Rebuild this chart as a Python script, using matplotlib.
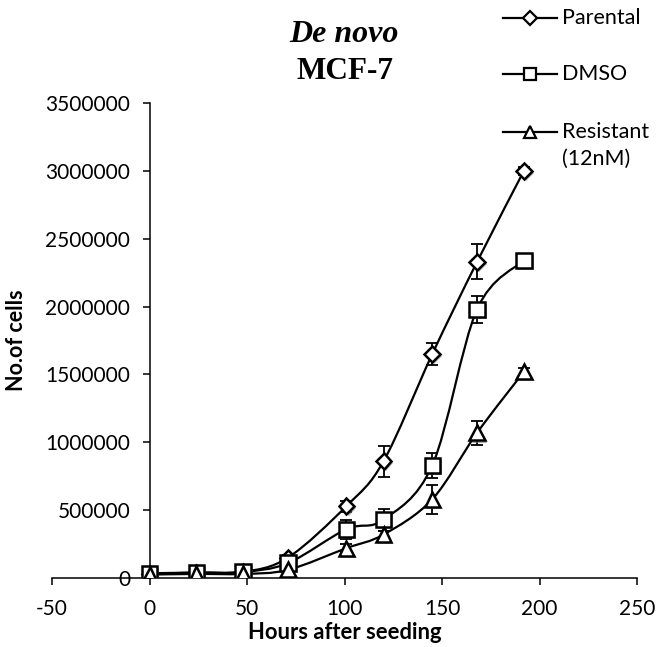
import numpy as np
import matplotlib.pyplot as plt
from matplotlib.path import Path
from matplotlib.patches import PathPatch
from matplotlib.lines import Line2D
import matplotlib.patheffects as pe

# growth curve data (cells counted at each time point, mean and error)
hours = [0, 24, 48, 71, 101, 120, 145, 168, 192]

parental = [30000, 40000, 45000, 150000, 530000, 860000, 1650000, 2330000, 3000000]
parental_err = [5000, 5000, 5000, 20000, 40000, 115000, 80000, 130000, 30000]

dmso = [35000, 40000, 45000, 110000, 360000, 430000, 830000, 1980000, 2340000]
dmso_err = [5000, 5000, 5000, 20000, 70000, 80000, 90000, 100000, 30000]

resistant = [25000, 30000, 30000, 60000, 220000, 320000, 580000, 1070000, 1520000]
resistant_err = [5000, 5000, 5000, 10000, 30000, 30000, 105000, 90000, 30000]

labels = ["Parental", "DMSO", "Resistant\n(12nM)"]
markers = ["D", "s", "^"]
msizes = [8, 11, 11]

plt.rcParams['font.family'] = ['Lato', 'DejaVu Sans']
plt.rcParams['axes.unicode_minus'] = False


def smooth_path(x, y):
    # Catmull-Rom style cubic bezier through the points (like a smoothed line)
    pts = np.column_stack([x, y]).astype(float)
    padded = np.vstack([pts[0], pts, pts[-1]])
    verts = [pts[0]]
    codes = [Path.MOVETO]
    for i in range(len(pts) - 1):
        p0, p1, p2, p3 = padded[i], padded[i + 1], padded[i + 2], padded[i + 3]
        verts += [p1 + (p2 - p0) / 6, p2 - (p3 - p1) / 6, p2]
        codes += [Path.CURVE4] * 3
    return Path(verts, codes)


W, H = 666, 647
fig = plt.figure(figsize=(W / 100, H / 100), dpi=100)
ax = fig.add_axes([52 / W, 1 - 578 / H, 585 / W, 475 / H])

shadow = [pe.SimplePatchShadow(offset=(1.5, -1.5), shadow_rgbFace='0.45', alpha=0.6), pe.Normal()]

series = [(parental, parental_err), (dmso, dmso_err), (resistant, resistant_err)]
for (vals, err), mk, ms in zip(series, markers, msizes):
    ax.errorbar(hours, vals, yerr=err, fmt='none', ecolor='black', elinewidth=1.3,
                capsize=4, capthick=1.3, zorder=2)
    ax.add_patch(PathPatch(smooth_path(hours, vals), fill=False, edgecolor='black',
                           linewidth=1.6, zorder=3))
    ax.plot(hours, vals, linestyle='none', marker=mk, markersize=ms, markerfacecolor='white',
            markeredgecolor='black', markeredgewidth=1.8, zorder=4, path_effects=shadow)

ax.set_xlim(-50, 250)
ax.set_ylim(0, 3500000)
ax.set_xticks(np.arange(-50, 251, 50))
ax.set_yticks(np.arange(0, 3500001, 500000))
ax.yaxis.set_major_formatter(plt.FuncFormatter(lambda v, p: f"{int(v)}"))

ax.spines['left'].set_position(('data', 0))
ax.spines['bottom'].set_position(('data', 0))
ax.spines['top'].set_visible(False)
ax.spines['right'].set_visible(False)
for s in ('left', 'bottom'):
    ax.spines[s].set_linewidth(1.1)
ax.tick_params(axis='both', direction='out', length=5, width=1.1, labelsize=15)
ax.tick_params(axis='x', pad=10)
ax.tick_params(axis='y', pad=9)

ax.set_xlabel("Hours after seeding", fontsize=15.8, fontweight='bold')
ax.xaxis.set_label_coords(0.5, -0.114)
ax.xaxis.label.set_va('center')
ax.set_ylabel("No.of cells", fontsize=15.5, fontweight='bold')
ax.yaxis.set_label_coords(-0.06, 0.5)
ax.yaxis.label.set_va('center')

# title in two lines
fig.text(344 / W, 1 - 42 / H, "De novo", fontsize=23, fontweight='bold', fontstyle='italic',
         family='Liberation Serif', ha='center', va='baseline')
fig.text(345 / W, 1 - 79 / H, "MCF-7", fontsize=22.5, fontweight='bold',
         family='Liberation Serif', ha='center', va='baseline')

# legend drawn at the top right
leg_rows = [18, 74, 132]
for lab, mk, ms, py in zip(labels, markers, msizes, leg_rows):
    yf = 1 - py / H
    fig.add_artist(Line2D([503 / W, 557 / W], [yf, yf], color='black', linewidth=1.6,
                          transform=fig.transFigure))
    fig.add_artist(Line2D([530 / W], [yf], marker=mk, markersize=ms * 0.85, markerfacecolor='white',
                          markeredgecolor='black', markeredgewidth=1.6, transform=fig.transFigure))
    first, *rest = lab.split("\n")
    fig.text(562 / W, yf, first, fontsize=15.5, ha='left', va='center')
    if rest:
        fig.text(562 / W, 1 - (py + 27) / H, rest[0], fontsize=15.5, ha='left', va='center')

fig.savefig("out.png", dpi=100)
